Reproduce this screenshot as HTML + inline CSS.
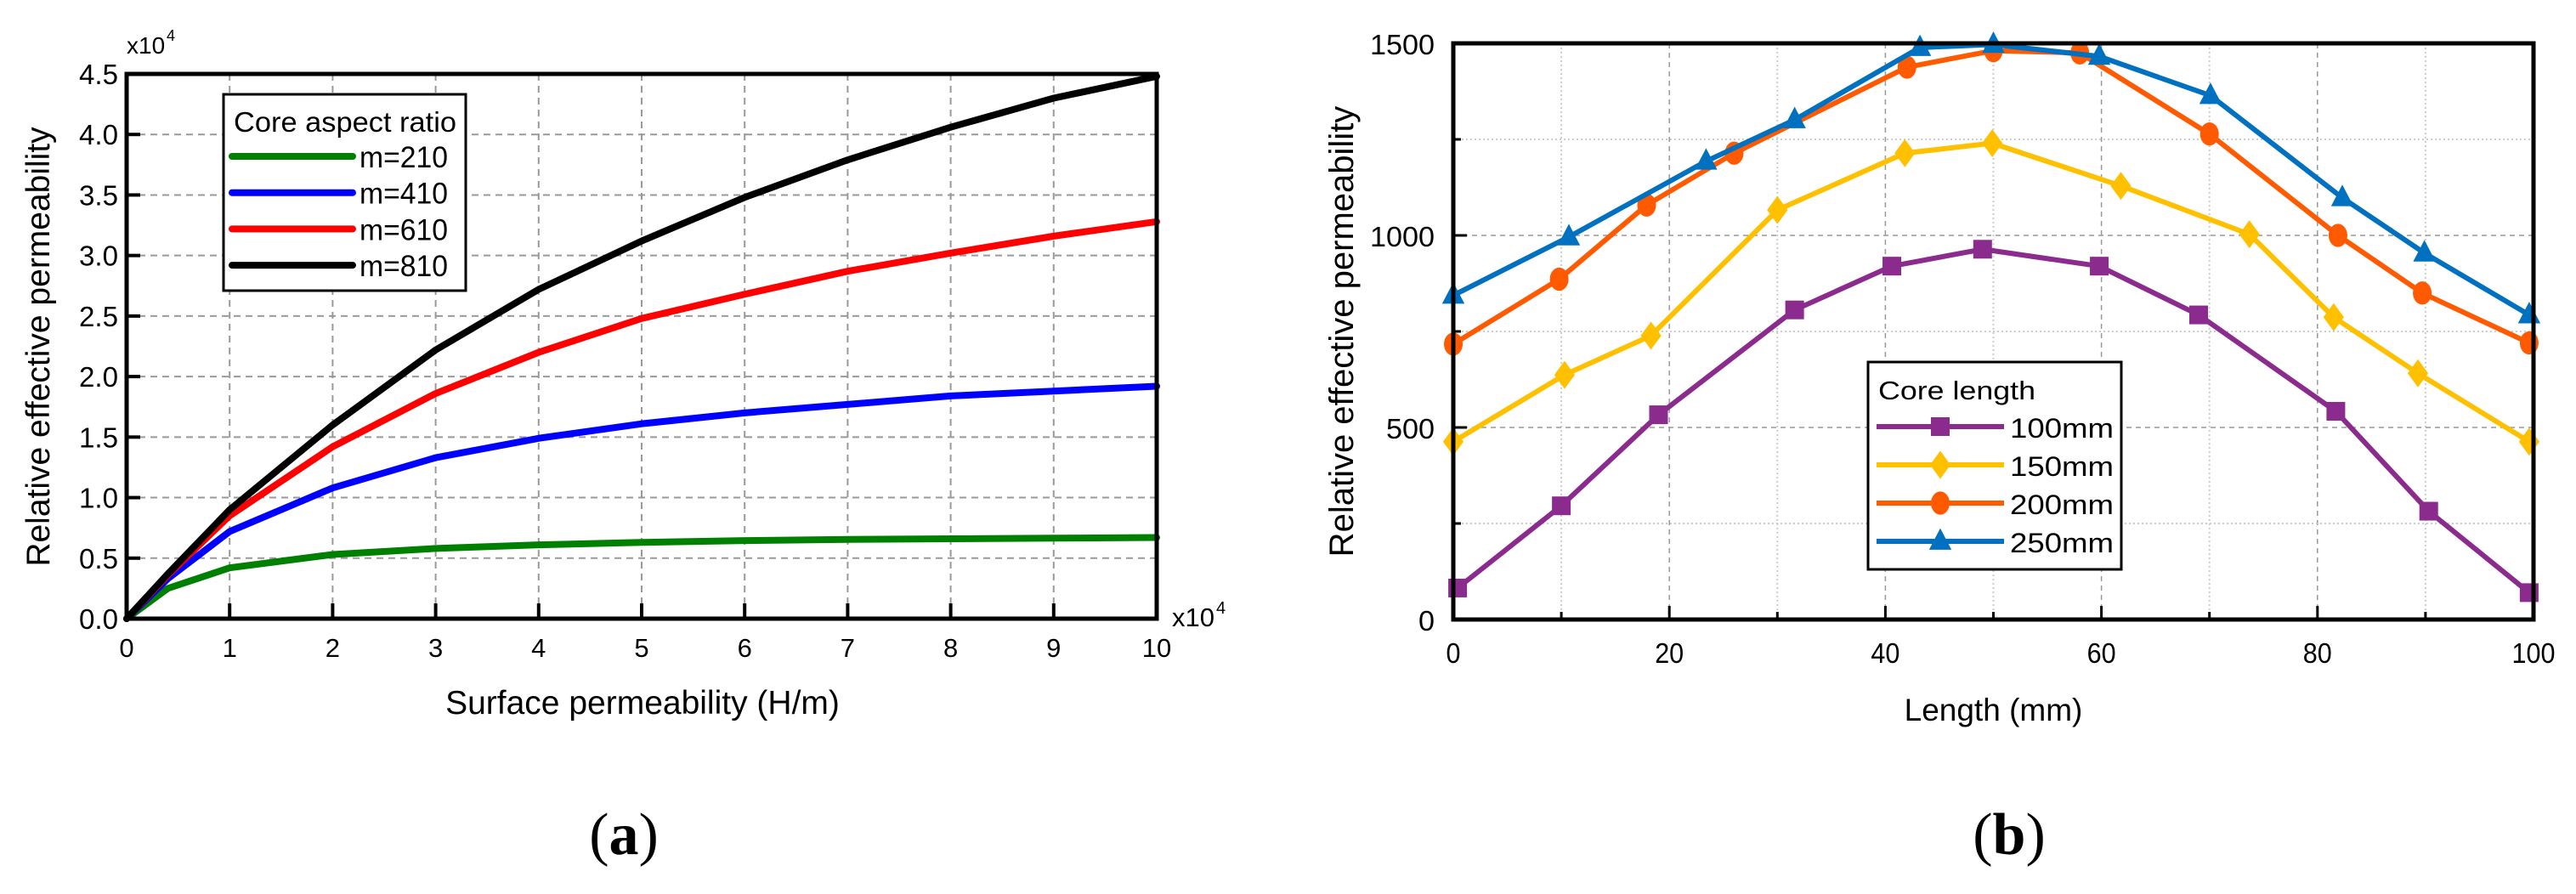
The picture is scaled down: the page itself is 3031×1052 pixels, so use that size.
<!DOCTYPE html>
<html><head><meta charset="utf-8"><style>
html,body{margin:0;padding:0;background:#fff;}
svg{display:block;font-family:"Liberation Sans",Arial,sans-serif;}
</style></head><body>
<svg id="fig" width="3031" height="1052" viewBox="0 0 3031 1052" xmlns="http://www.w3.org/2000/svg">
<g id="chartA"></g>
<g id="chartB"></g>
<text x="734" y="1005" font-family="Liberation Serif,serif" font-size="70" text-anchor="middle">(<tspan font-weight="bold">a</tspan>)</text>
<text x="2364" y="1005" font-family="Liberation Serif,serif" font-size="70" text-anchor="middle">(<tspan font-weight="bold">b</tspan>)</text>
</svg>
<script>
// ---------- Chart A data ----------
const aX = [0,0.4,1,2,3,4,5,6,7,8,9,10];
const aNames = ["m=210","m=410","m=610","m=810"];
const aColors = ["#008000","#0000ff","#ff0000","#000000"];
const aM210 = [0,0.25,0.42,0.53,0.58,0.61,0.63,0.645,0.655,0.66,0.665,0.67];
const aM410 = [0,0.33,0.72,1.08,1.33,1.49,1.61,1.70,1.77,1.84,1.88,1.92];
const aM610 = [0,0.36,0.85,1.42,1.86,2.2,2.48,2.68,2.87,3.02,3.16,3.28];
const aM810 = [0,0.37,0.9,1.6,2.22,2.72,3.12,3.48,3.79,4.06,4.3,4.48];
const aXTicks = ["0","1","2","3","4","5","6","7","8","9","10"];
const aYTicks = ["0.0","0.5","1.0","1.5","2.0","2.5","3.0","3.5","4.0","4.5"];
// ---------- Chart B data ----------
const bNames = ["100mm","150mm","200mm","250mm"];
const bColors = ["#8b2b8e","#ffc000","#ff5a00","#0070c0"];
const bX100 = [0.4,10,19,31.6,40.6,49,59.8,69,81.7,90.3,99.6];
const bY100 = [82,296,533,806,920,964,920,793,542,282,70];
const bX150 = [0,10.3,18.3,30,41.8,49.9,61.8,73.7,81.5,89.3,99.6];
const bY150 = [463,637,739,1066,1214,1240,1129,1003,787,641,463];
const bX200 = [0,9.8,17.9,26,42,50,58,70,81.9,89.7,99.6];
const bY200 = [717,886,1079,1214,1438,1481,1475,1264,1000,850,720];
const bX250 = [0,10.7,23.4,31.6,43.2,50,59.8,70.1,82.3,89.9,99.6];
const bY250 = [844,996,1193,1301,1489,1497,1466,1364,1098,954,793];
const bXTicks = ["0","20","40","60","80","100"];
const bYTicks = ["0","500","1000","1500"];

const NS="http://www.w3.org/2000/svg";
function mk(parent,tag,attrs,txt){const e=document.createElementNS(NS,tag);for(const k in attrs)e.setAttribute(k,attrs[k]);if(txt!==undefined)e.textContent=txt;parent.appendChild(e);return e;}

// ===== Chart A =====
(function(){
const g=document.getElementById('chartA');
const L=149,R=1361,T=87,B=728;
const xs=v=>L+(v/10)*(R-L), ys=v=>B-(v/4.5)*(B-T);
for(let i=1;i<10;i++){const l=mk(g,'line',{x1:xs(i),x2:xs(i),y1:T,y2:B,stroke:'#999','stroke-width':2,'stroke-dasharray':'8,6'});

}
for(let i=1;i<9;i++){const l=mk(g,'line',{x1:L,x2:R,y1:ys(i*0.5),y2:ys(i*0.5),stroke:'#999','stroke-width':2,'stroke-dasharray':'8,6'});

}
const series=[aM210,aM410,aM610,aM810];
series.forEach((s,k)=>{
 const d=s.map((v,i)=>(i?'L':'M')+xs(aX[i])+','+ys(v)).join(' ');
 const p=mk(g,'path',{d:d,fill:'none',stroke:aColors[k],'stroke-width':8,'stroke-linejoin':'round','stroke-linecap':'round'});
 
 
});
const fr=mk(g,'rect',{x:L,y:T,width:R-L,height:B-T,fill:'none',stroke:'#000','stroke-width':5});


aXTicks.forEach((t,i)=>{
 mk(g,'line',{x1:xs(i),x2:xs(i),y1:B,y2:B-18,stroke:'#000','stroke-width':4});
 const tx=mk(g,'text',{x:xs(i),y:773,'font-size':31,'text-anchor':'middle'},t);
 
 
});
aYTicks.forEach((t,i)=>{
 mk(g,'line',{x1:L,x2:L+16,y1:ys(i*0.5),y2:ys(i*0.5),stroke:'#000','stroke-width':4});
 const tx=mk(g,'text',{x:L-10,y:ys(i*0.5)+12,'font-size':33,'text-anchor':'end',textLength:46,lengthAdjust:'spacingAndGlyphs'},t);
 
 
});
const e1=mk(g,'text',{x:L,y:63,'font-size':28},'x10');


mk(g,'text',{x:196,y:48,'font-size':18},'4');
const e2=mk(g,'text',{x:1379,y:737,'font-size':31},'x10');


mk(g,'text',{x:1431,y:722,'font-size':20},'4');
const xt=mk(g,'text',{x:756,y:840,'font-size':39,'text-anchor':'middle'},'Surface permeability (H/m)');


const yt=mk(g,'text',{x:0,y:0,'font-size':39,'text-anchor':'middle',transform:'translate(58,408) rotate(-90)'},'Relative effective permeability');


const lg=mk(g,'g',{});


mk(lg,'rect',{x:263,y:111,width:285,height:231,fill:'#fff',stroke:'#000','stroke-width':3});
mk(lg,'text',{x:275,y:155,'font-size':33,textLength:262,lengthAdjust:'spacingAndGlyphs'},'Core aspect ratio');
aNames.forEach((n,k)=>{
 const yy=184+k*42.7;
 const le=mk(lg,'g',{});
 
 
 mk(le,'line',{x1:273,x2:415,y1:yy,y2:yy,stroke:aColors[k],'stroke-width':8,'stroke-linecap':'round'});
 mk(le,'text',{x:423,y:yy+13,'font-size':35,textLength:104,lengthAdjust:'spacingAndGlyphs'},n);
});
})();

// ===== Chart B =====
(function(){
const g=document.getElementById('chartB');
const L=1710,R=2981,T=51,B=729;
const xs=v=>L+(v/100)*(R-L), ys=v=>B-(v/1500)*(B-T);
for(let v=10;v<100;v+=10){const major=v%20===0;
 const l=mk(g,'line',{x1:xs(v),x2:xs(v),y1:T,y2:B,stroke:major?'#999':'#ccc','stroke-width':major?1.5:2,'stroke-dasharray':major?'6,5':'2,3'});
 
 }
for(let v=250;v<1500;v+=250){const major=v%500===0;
 const l=mk(g,'line',{x1:L,x2:R,y1:ys(v),y2:ys(v),stroke:major?'#999':'#ccc','stroke-width':major?1.5:2,'stroke-dasharray':major?'6,5':'2,3'});
 
 }
const bx=[bX100,bX150,bX200,bX250], by=[bY100,bY150,bY200,bY250];
function marker(par,k,cx,cy,s){
 if(k===0) return mk(par,'rect',{x:cx-s*0.5,y:cy-s*0.5,width:s,height:s,fill:bColors[k]});
 if(k===1) return mk(par,'polygon',{points:`${cx},${cy-s*0.75} ${cx+s*0.55},${cy} ${cx},${cy+s*0.75} ${cx-s*0.55},${cy}`,fill:bColors[k]});
 if(k===2) return mk(par,'ellipse',{cx:cx,cy:cy,rx:s*0.5,ry:s*0.62,fill:bColors[k]});
 return mk(par,'polygon',{points:`${cx},${cy-s*0.7} ${cx+s*0.6},${cy+s*0.45} ${cx-s*0.6},${cy+s*0.45}`,fill:bColors[k]});
}
bNames.forEach((n,k)=>{
 const sg=mk(g,'g',{});
 
 
 const d=bx[k].map((v,i)=>(i?'L':'M')+xs(v)+','+ys(by[k][i])).join(' ');
 mk(sg,'path',{d:d,fill:'none',stroke:bColors[k],'stroke-width':6,'stroke-linejoin':'round'});
 bx[k].forEach((v,i)=>{const m=marker(sg,k,xs(v),ys(by[k][i]),22);
  
  });
});
const fr=mk(g,'rect',{x:L,y:T,width:R-L,height:B-T,fill:'none',stroke:'#000','stroke-width':5});


for(let v=10;v<100;v+=10) mk(g,'line',{x1:xs(v),x2:xs(v),y1:B,y2:B-(v%20===0?16:9),stroke:'#000','stroke-width':3});
for(let v=250;v<1500;v+=250) mk(g,'line',{x1:L,x2:L+(v%500===0?16:9),y1:ys(v),y2:ys(v),stroke:'#000','stroke-width':3});
bXTicks.forEach((t,i)=>{
 const tx=mk(g,'text',{x:xs(i*20),y:780,'font-size':33,'text-anchor':'middle',textLength:t.length*17,lengthAdjust:'spacingAndGlyphs'},t);
 
 
});
bYTicks.forEach((t,i)=>{
 const tx=mk(g,'text',{x:1688,y:ys(i*500)+13,'font-size':33,'text-anchor':'end',textLength:t.length*19,lengthAdjust:'spacingAndGlyphs'},t);
 
 
});
const xt=mk(g,'text',{x:(L+R)/2,y:848,'font-size':37,'text-anchor':'middle'},'Length (mm)');


const yt=mk(g,'text',{x:0,y:0,'font-size':40,'text-anchor':'middle',transform:'translate(1592,390) rotate(-90)'},'Relative effective permeability');


const lg=mk(g,'g',{});


mk(lg,'rect',{x:2198,y:426,width:298,height:244,fill:'#fff',stroke:'#000','stroke-width':3});
mk(lg,'text',{x:2210,y:470,'font-size':31,textLength:185,lengthAdjust:'spacingAndGlyphs'},'Core length');
bNames.forEach((n,k)=>{
 const yy=502+k*45;
 const le=mk(lg,'g',{});
 
 
 mk(le,'line',{x1:2208,x2:2358,y1:yy,y2:yy,stroke:bColors[k],'stroke-width':6});
 marker(le,k,2283,yy,22);
 mk(le,'text',{x:2365,y:yy+13,'font-size':32,textLength:122,lengthAdjust:'spacingAndGlyphs'},n);
});
})();
</script>
</body></html>
